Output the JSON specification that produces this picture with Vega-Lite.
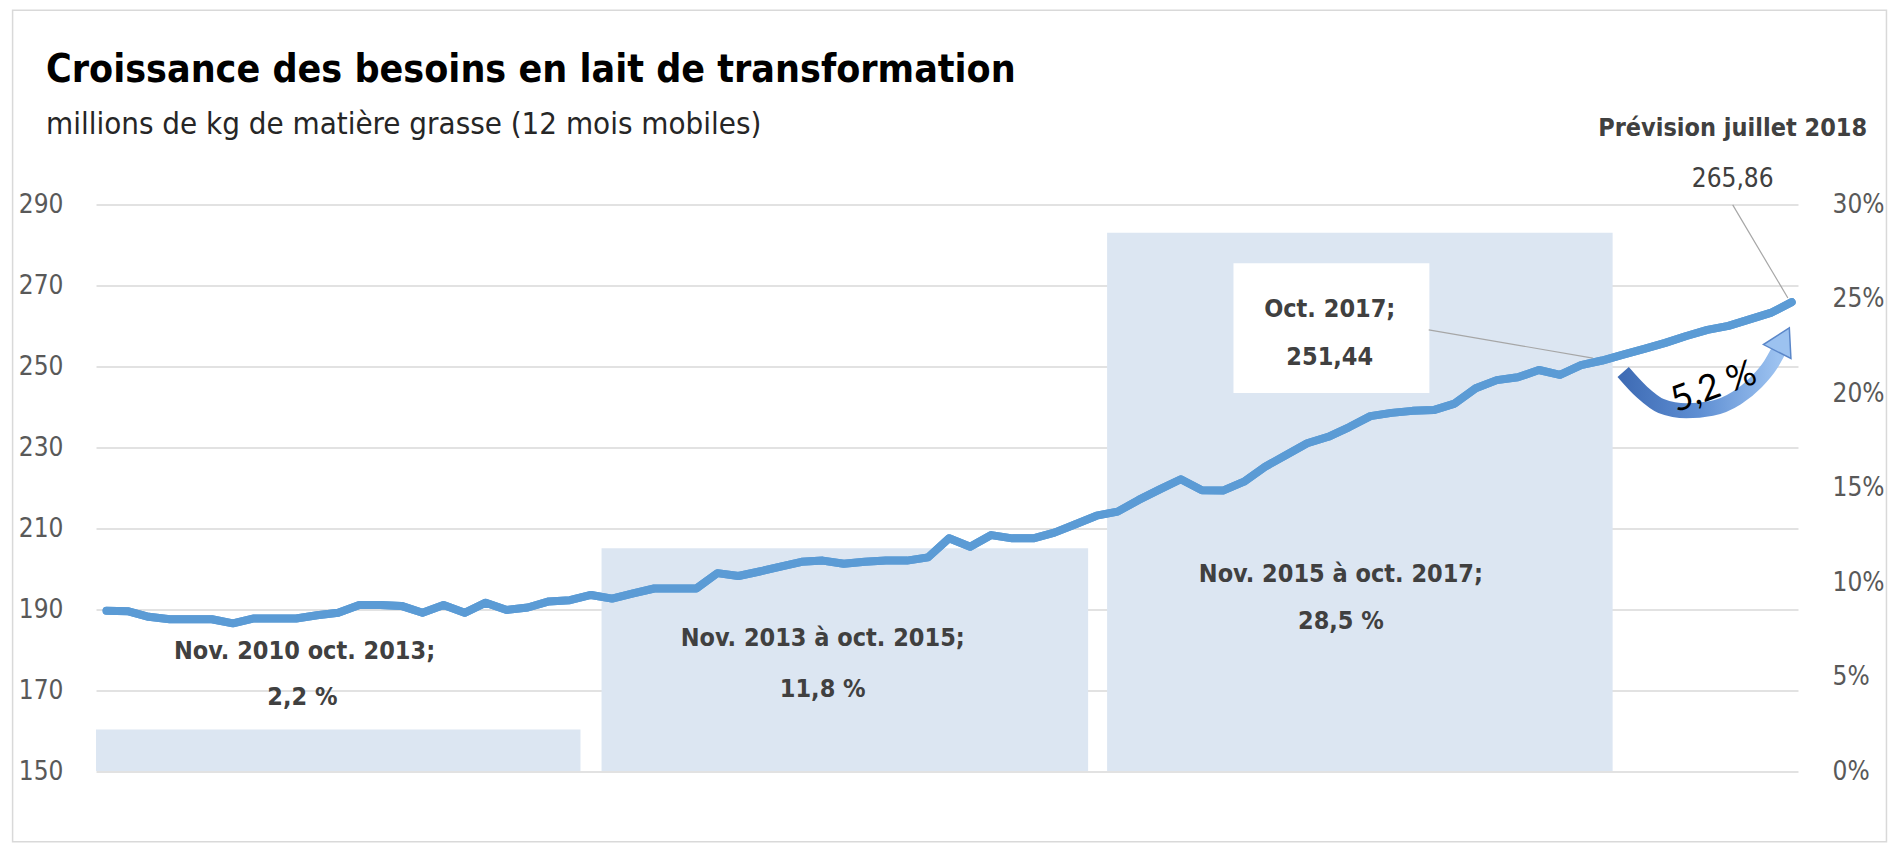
{
  "$schema": "https://vega.github.io/schema/vega-lite/v6.json",
  "width": 1702,
  "height": 566.5,
  "autosize": {"type": "none"},
  "padding": {"left": 96, "top": 204.5, "right": 91, "bottom": 78},
  "background": "white",
  "config": {
    "view": {"stroke": null},
    "font": "DejaVu Sans Condensed, DejaVu Sans, sans-serif"
  },
  "title": {
    "text": "Croissance des besoins en lait de transformation",
    "subtitle": "millions de kg de matière grasse (12 mois mobiles)",
    "anchor": "start",
    "frame": "group",
    "dx": -50,
    "offset": -130,
    "font": "DejaVu Sans Condensed, DejaVu Sans, sans-serif",
    "fontSize": 39,
    "fontWeight": "bold",
    "color": "#000000",
    "subtitleFont": "DejaVu Sans Condensed, DejaVu Sans, sans-serif",
    "subtitleFontSize": 31,
    "subtitleColor": "#262626",
    "subtitlePadding": 20
  },
  "datasets": {
    "besoins": [
      {"i": 0, "v": 189.6}, {"i": 1, "v": 189.5}, {"i": 2, "v": 188.1}, {"i": 3, "v": 187.5},
      {"i": 4, "v": 187.5}, {"i": 5, "v": 187.5}, {"i": 6, "v": 186.5}, {"i": 7, "v": 187.7},
      {"i": 8, "v": 187.7}, {"i": 9, "v": 187.7}, {"i": 10, "v": 188.5}, {"i": 11, "v": 189.1},
      {"i": 12, "v": 191.0}, {"i": 13, "v": 191.0}, {"i": 14, "v": 190.8}, {"i": 15, "v": 189.1},
      {"i": 16, "v": 191.0}, {"i": 17, "v": 189.1}, {"i": 18, "v": 191.6}, {"i": 19, "v": 189.8},
      {"i": 20, "v": 190.4}, {"i": 21, "v": 191.9}, {"i": 22, "v": 192.2}, {"i": 23, "v": 193.5},
      {"i": 24, "v": 192.6}, {"i": 25, "v": 193.9}, {"i": 26, "v": 195.1}, {"i": 27, "v": 195.1},
      {"i": 28, "v": 195.1}, {"i": 29, "v": 198.9}, {"i": 30, "v": 198.2}, {"i": 31, "v": 199.3},
      {"i": 32, "v": 200.5}, {"i": 33, "v": 201.7}, {"i": 34, "v": 202.0}, {"i": 35, "v": 201.2},
      {"i": 36, "v": 201.7}, {"i": 37, "v": 202.0}, {"i": 38, "v": 202.0}, {"i": 39, "v": 202.8},
      {"i": 40, "v": 207.5}, {"i": 41, "v": 205.4}, {"i": 42, "v": 208.3}, {"i": 43, "v": 207.5},
      {"i": 44, "v": 207.5}, {"i": 45, "v": 208.9}, {"i": 46, "v": 211.0}, {"i": 47, "v": 213.1},
      {"i": 48, "v": 214.1}, {"i": 49, "v": 217.0}, {"i": 50, "v": 219.6}, {"i": 51, "v": 222.1},
      {"i": 52, "v": 219.4}, {"i": 53, "v": 219.3}, {"i": 54, "v": 221.5}, {"i": 55, "v": 225.2},
      {"i": 56, "v": 228.1}, {"i": 57, "v": 231.0}, {"i": 58, "v": 232.6}, {"i": 59, "v": 235.0},
      {"i": 60, "v": 237.7}, {"i": 61, "v": 238.5}, {"i": 62, "v": 239.0}, {"i": 63, "v": 239.2},
      {"i": 64, "v": 240.8}, {"i": 65, "v": 244.6}, {"i": 66, "v": 246.6}, {"i": 67, "v": 247.3},
      {"i": 68, "v": 249.1}, {"i": 69, "v": 247.9}, {"i": 70, "v": 250.3}, {"i": 71, "v": 251.44},
      {"i": 72, "v": 252.9}, {"i": 73, "v": 254.3}, {"i": 74, "v": 255.8}, {"i": 75, "v": 257.5},
      {"i": 76, "v": 259.0}, {"i": 77, "v": 260.0}, {"i": 78, "v": 261.6}, {"i": 79, "v": 263.2},
      {"i": 80, "v": 265.86}
    ],
    "periodes": [
      {"periode": "Nov. 2010 - oct. 2013", "debut": -0.5, "fin": 22.5, "croissance": 0.022},
      {"periode": "Nov. 2013 - oct. 2015", "debut": 23.5, "fin": 46.6, "croissance": 0.118},
      {"periode": "Nov. 2015 - oct. 2017", "debut": 47.5, "fin": 71.5, "croissance": 0.285}
    ],
    "cadre": [
      {"i": -4.46, "i2": 84.5, "v": 132.5, "v2": 338.0}
    ],
    "boite": [
      {"i": 53.5, "i2": 62.8, "v": 243.4, "v2": 275.5}
    ],
    "rappels": [
      {"i": 62.77, "v": 259.0, "i2": 70.56, "v2": 252.05},
      {"i": 77.2, "v": 289.9, "i2": 79.82, "v2": 266.9}
    ],
    "etiquettes": [
      {"role": "barre", "t": "Nov. 2010  oct. 2013;", "i": 9.4, "v": 179.7},
      {"role": "barre", "t": "2,2 %", "i": 9.3, "v": 168.3},
      {"role": "barre", "t": "Nov. 2013 à oct. 2015;", "i": 34.0, "v": 182.9},
      {"role": "barre", "t": "11,8 %", "i": 34.0, "v": 170.3},
      {"role": "barre", "t": "Nov. 2015  à oct. 2017;", "i": 58.6, "v": 198.7},
      {"role": "barre", "t": "28,5 %", "i": 58.6, "v": 187.1},
      {"role": "barre", "t": "Oct. 2017;", "i": 58.07, "v": 264.2},
      {"role": "barre", "t": "251,44", "i": 58.07, "v": 252.2},
      {"role": "prevision", "t": "Prévision juillet 2018", "i": 77.2, "v": 308.9},
      {"role": "valeur", "t": "265,86", "i": 77.2, "v": 296.3}
    ],
    "fleche": [
      {"i": 72.0, "v": 248.6}, {"i": 72.9, "v": 243.6}, {"i": 73.8, "v": 240.2},
      {"i": 75.0, "v": 239.0}, {"i": 76.2, "v": 239.6}, {"i": 77.4, "v": 242.2},
      {"i": 78.3, "v": 246.0}, {"i": 79.0, "v": 250.4}, {"i": 79.35, "v": 253.6}
    ],
    "pointe": [{"i": 79.6, "v": 256.6}],
    "hausse": [{"t": "5,2 %", "i": 76.3, "v": 244.9}]
  },
  "layer": [
    {
      "data": {"name": "periodes"},
      "mark": {"type": "rect", "color": "#dce6f2"},
      "encoding": {
        "x": {"field": "debut", "type": "quantitative", "scale": {"domain": [-0.5, 80.3]}, "axis": null},
        "x2": {"field": "fin"},
        "y": {
          "field": "croissance", "type": "quantitative",
          "scale": {"domain": [0, 0.3]},
          "axis": {
            "orient": "right", "values": [0, 0.05, 0.1, 0.15, 0.2, 0.25, 0.3], "format": ".0%",
            "title": null, "grid": false, "domain": false, "ticks": false,
            "labelFontSize": 26, "labelColor": "#595959", "labelPadding": 34
          }
        },
        "y2": {"datum": 0}
      }
    },
    {
      "data": {"name": "besoins"},
      "mark": {"type": "line", "color": "#5b9bd5", "strokeWidth": 8, "strokeJoin": "round", "strokeCap": "round"},
      "encoding": {
        "x": {"field": "i", "type": "quantitative", "scale": {"domain": [-0.5, 80.3]}, "axis": null},
        "y": {
          "field": "v", "type": "quantitative",
          "scale": {"domain": [150, 290]},
          "axis": {
            "orient": "left", "values": [150, 170, 190, 210, 230, 250, 270, 290],
            "title": null, "grid": true, "gridColor": "#d9d9d9", "gridWidth": 1.5,
            "domain": false, "ticks": false,
            "labelFontSize": 26, "labelColor": "#595959", "labelPadding": 33
          }
        }
      }
    },
    {
      "data": {"name": "cadre"},
      "mark": {"type": "rect", "fill": null, "stroke": "#d9d9d9", "strokeWidth": 1.5},
      "encoding": {
        "x": {"field": "i", "type": "quantitative", "scale": {"domain": [-0.5, 80.3]}, "axis": null},
        "x2": {"field": "i2"},
        "y": {"field": "v", "type": "quantitative", "scale": {"domain": [150, 290]}, "axis": null},
        "y2": {"field": "v2"}
      }
    },
    {
      "data": {"name": "boite"},
      "mark": {"type": "rect", "fill": "#ffffff"},
      "encoding": {
        "x": {"field": "i", "type": "quantitative", "scale": {"domain": [-0.5, 80.3]}, "axis": null},
        "x2": {"field": "i2"},
        "y": {"field": "v", "type": "quantitative", "scale": {"domain": [150, 290]}, "axis": null},
        "y2": {"field": "v2"}
      }
    },
    {
      "data": {"name": "rappels"},
      "mark": {"type": "rule", "color": "#a6a6a6", "strokeWidth": 1.2},
      "encoding": {
        "x": {"field": "i", "type": "quantitative", "scale": {"domain": [-0.5, 80.3]}, "axis": null},
        "x2": {"field": "i2"},
        "y": {"field": "v", "type": "quantitative", "scale": {"domain": [150, 290]}, "axis": null},
        "y2": {"field": "v2"}
      }
    },
    {
      "data": {"name": "besoins"},
      "mark": {"type": "line", "color": "#5b9bd5", "strokeWidth": 8, "strokeJoin": "round", "strokeCap": "round"},
      "encoding": {
        "x": {"field": "i", "type": "quantitative", "scale": {"domain": [-0.5, 80.3]}, "axis": null},
        "y": {"field": "v", "type": "quantitative", "scale": {"domain": [150, 290]}, "axis": null}
      }
    },
    {
      "data": {"name": "etiquettes"},
      "transform": [{"filter": "datum.role === 'barre'"}],
      "mark": {"type": "text", "align": "center", "baseline": "middle", "fontSize": 25, "color": "#404040", "fontWeight": "bold"},
      "encoding": {
        "x": {"field": "i", "type": "quantitative", "scale": {"domain": [-0.5, 80.3]}, "axis": null},
        "y": {"field": "v", "type": "quantitative", "scale": {"domain": [150, 290]}, "axis": null},
        "text": {"field": "t"}
      }
    },
    {
      "data": {"name": "etiquettes"},
      "transform": [{"filter": "datum.role === 'prevision'"}],
      "mark": {"type": "text", "align": "center", "baseline": "middle", "fontSize": 25, "color": "#404040", "fontWeight": "bold"},
      "encoding": {
        "x": {"field": "i", "type": "quantitative", "scale": {"domain": [-0.5, 80.3]}, "axis": null},
        "y": {"field": "v", "type": "quantitative", "scale": {"domain": [150, 290]}, "axis": null},
        "text": {"field": "t"}
      }
    },
    {
      "data": {"name": "etiquettes"},
      "transform": [{"filter": "datum.role === 'valeur'"}],
      "mark": {"type": "text", "align": "center", "baseline": "middle", "fontSize": 26, "color": "#404040"},
      "encoding": {
        "x": {"field": "i", "type": "quantitative", "scale": {"domain": [-0.5, 80.3]}, "axis": null},
        "y": {"field": "v", "type": "quantitative", "scale": {"domain": [150, 290]}, "axis": null},
        "text": {"field": "t"}
      }
    },
    {
      "data": {"name": "fleche"},
      "mark": {
        "type": "line", "strokeWidth": 15, "strokeCap": "butt", "interpolate": "monotone",
        "stroke": {"gradient": "linear", "x1": 0, "y1": 0, "x2": 1, "y2": 0,
          "stops": [{"offset": 0, "color": "#3f6cb5"}, {"offset": 0.5, "color": "#5f8fd3"}, {"offset": 1, "color": "#9cc2f0"}]}
      },
      "encoding": {
        "x": {"field": "i", "type": "quantitative", "scale": {"domain": [-0.5, 80.3]}, "axis": null},
        "y": {"field": "v", "type": "quantitative", "scale": {"domain": [150, 290]}, "axis": null}
      }
    },
    {
      "data": {"name": "pointe"},
      "mark": {"type": "point", "shape": "triangle-up", "size": 950, "angle": 27, "filled": true, "fill": "#9cc2f0", "stroke": "#5b87c9", "strokeWidth": 1.5, "opacity": 1},
      "encoding": {
        "x": {"field": "i", "type": "quantitative", "scale": {"domain": [-0.5, 80.3]}, "axis": null},
        "y": {"field": "v", "type": "quantitative", "scale": {"domain": [150, 290]}, "axis": null}
      }
    },
    {
      "data": {"name": "hausse"},
      "mark": {"type": "text", "align": "center", "baseline": "middle", "fontSize": 36, "color": "#000000", "angle": -20, "font": "Lato, Open Sans, sans-serif"},
      "encoding": {
        "x": {"field": "i", "type": "quantitative", "scale": {"domain": [-0.5, 80.3]}, "axis": null},
        "y": {"field": "v", "type": "quantitative", "scale": {"domain": [150, 290]}, "axis": null},
        "text": {"field": "t"}
      }
    }
  ],
  "resolve": {"scale": {"y": "independent"}}
}
